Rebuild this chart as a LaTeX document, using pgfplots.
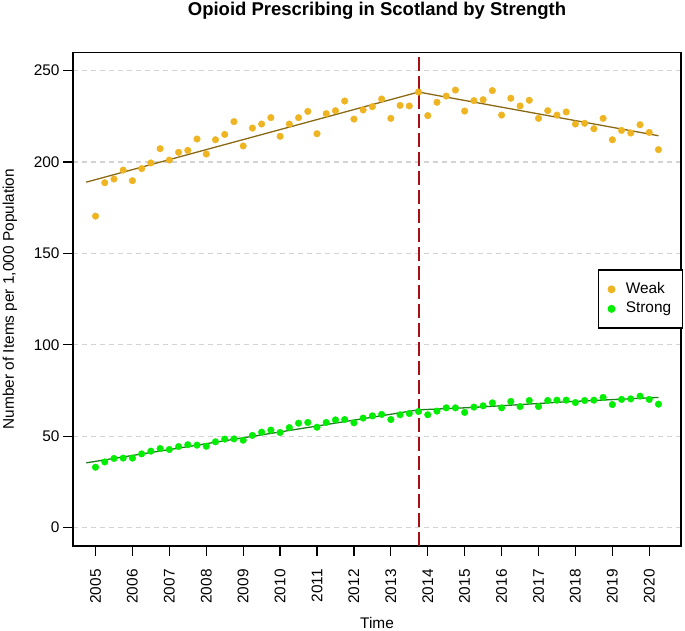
\documentclass[border=0pt]{standalone}
\usepackage{pgfplots}
\pgfplotsset{compat=1.18}
\usepackage{fontspec}
\setmainfont{Liberation Sans}
\definecolor{weakpt}{HTML}{EEB422}
\definecolor{weakln}{HTML}{8B6914}
\definecolor{strongpt}{HTML}{00EE00}
\definecolor{strongln}{HTML}{1E7F1E}
\definecolor{signred}{HTML}{A50F15}
\definecolor{gridgray}{HTML}{D3D3D3}

\pgfplotstableread{
t      v
2005.00 170.4
2005.25 188.7
2005.50 190.7
2005.75 195.6
2006.00 189.8
2006.25 196.4
2006.50 199.5
2006.75 207.3
2007.00 201.1
2007.25 205.3
2007.50 206.4
2007.75 212.6
2008.00 204.4
2008.25 212.2
2008.50 215.1
2008.75 222.1
2009.00 208.8
2009.25 218.6
2009.50 220.8
2009.75 224.3
2010.00 214.1
2010.25 220.8
2010.50 224.3
2010.75 227.7
2011.00 215.5
2011.25 226.5
2011.50 228.1
2011.75 233.4
2012.00 223.5
2012.25 228.5
2012.50 230.3
2012.75 234.5
2013.00 223.9
2013.25 231.0
2013.50 230.7
2013.75 238.3
2014.00 225.4
2014.25 232.7
2014.50 236.1
2014.75 239.4
2015.00 227.9
2015.25 233.6
2015.50 234.1
2015.75 239.1
2016.00 225.7
2016.25 234.9
2016.50 230.7
2016.75 233.8
2017.00 223.9
2017.25 228.1
2017.50 225.7
2017.75 227.4
2018.00 220.8
2018.25 221.2
2018.50 218.2
2018.75 223.9
2019.00 212.2
2019.25 217.3
2019.50 215.9
2019.75 220.4
2020.00 216.2
2020.25 206.8
}\weak

\pgfplotstableread{
t      v
2005.00 33.0
2005.25 35.9
2005.50 37.8
2005.75 38.0
2006.00 38.0
2006.25 40.3
2006.50 41.8
2006.75 43.2
2007.00 42.7
2007.25 44.3
2007.50 45.3
2007.75 45.1
2008.00 44.5
2008.25 46.9
2008.50 48.4
2008.75 48.5
2009.00 47.8
2009.25 50.4
2009.50 52.2
2009.75 53.3
2010.00 52.0
2010.25 54.7
2010.50 57.1
2010.75 57.5
2011.00 54.9
2011.25 57.5
2011.50 58.9
2011.75 59.1
2012.00 57.3
2012.25 59.9
2012.50 61.1
2012.75 61.9
2013.00 59.1
2013.25 61.7
2013.50 62.4
2013.75 63.5
2014.00 61.7
2014.25 63.7
2014.50 65.5
2014.75 65.5
2015.00 63.0
2015.25 65.9
2015.50 66.6
2015.75 68.2
2016.00 65.5
2016.25 69.0
2016.50 66.2
2016.75 69.5
2017.00 66.2
2017.25 69.5
2017.50 69.7
2017.75 69.7
2018.00 68.4
2018.25 69.5
2018.50 69.7
2018.75 71.2
2019.00 67.3
2019.25 70.1
2019.50 70.4
2019.75 71.9
2020.00 70.1
2020.25 67.5
}\strong

\begin{document}
\begin{tikzpicture}
\useasboundingbox (-73pt,-85.2pt) rectangle (612pt,545.8pt);
\begin{axis}[
    scale only axis,
    width=608pt, height=493.4pt,
    xmin=2004.39, xmax=2020.86,
    ymin=-10, ymax=260,
    xtick={2005,2006,...,2020},
    ytick={0,50,...,250},
    /pgf/number format/1000 sep={},
    /pgf/number format/assume math mode=true,
    tick pos=left,
    tick align=outside,
    major tick length=10pt,
    every tick/.style={black, line width=1.3pt},
    axis line style={line width=1.5pt},
    ymajorgrids,
    major grid style={gridgray, line width=1.3pt, dash pattern=on 5pt off 4pt},
    tick label style={font=\fontsize{15.4}{18}\selectfont},
    xticklabel style={rotate=90, anchor=east},
    xticklabel shift=10pt,
    yticklabel style={anchor=east},
    label style={font=\fontsize{15.4}{18}\selectfont},
    xlabel={Time},
    ylabel={Number of Items per 1,000 Population},
    xlabel style={at={(axis description cs:0.5,-0.156)}, anchor=center},
    ylabel style={at={(axis description cs:-0.1036,0.5)}, anchor=center},
    title={Opioid Prescribing in Scotland by Strength},
    title style={at={(axis description cs:0.5,1.0718)}, anchor=center,
                 font=\bfseries\fontsize{18.5}{22}\selectfont},
    legend style={at={(axis description cs:1.003,0.5)}, anchor=east,
                  draw=black, line width=1.3pt, fill=white,
                  font=\fontsize{15.4}{18}\selectfont,
                  nodes={inner sep=1pt, text height=11pt, text depth=3.5pt},
                  /tikz/every odd column/.append style={column sep=10pt},
                  row sep=3pt, inner xsep=10pt, inner ysep=11pt},
    legend cell align=left,
]
\addplot[only marks, mark=*, mark size=3.3pt, color=weakpt] table[x=t, y=v] {\weak};
\addlegendentry{Weak}
\addplot[only marks, mark=*, mark size=3.3pt, color=strongpt] table[x=t, y=v] {\strong};
\addlegendentry{Strong}

% segmented trends
\addplot[weakln, line width=1.3pt, forget plot] coordinates {(2004.75,189.0) (2013.75,238.3) (2020.25,214.4)};
\addplot[strongln, line width=1.3pt, forget plot] coordinates {(2004.75,35.4) (2013.75,64.4) (2015.22,65.7) (2017.75,68.8) (2020.25,71.2)};

% SIGN 136 publication
\addplot[signred, line width=2pt, dash pattern=on 14pt off 5pt, forget plot] coordinates {(2013.75,-10) (2013.75,260)};
\node[anchor=base, font=\fontsize{15.4}{18}\selectfont, inner sep=0pt] at (axis cs:2013.75,260) [yshift=4.5pt] {SIGN 136};
\end{axis}
\end{tikzpicture}
\end{document}
